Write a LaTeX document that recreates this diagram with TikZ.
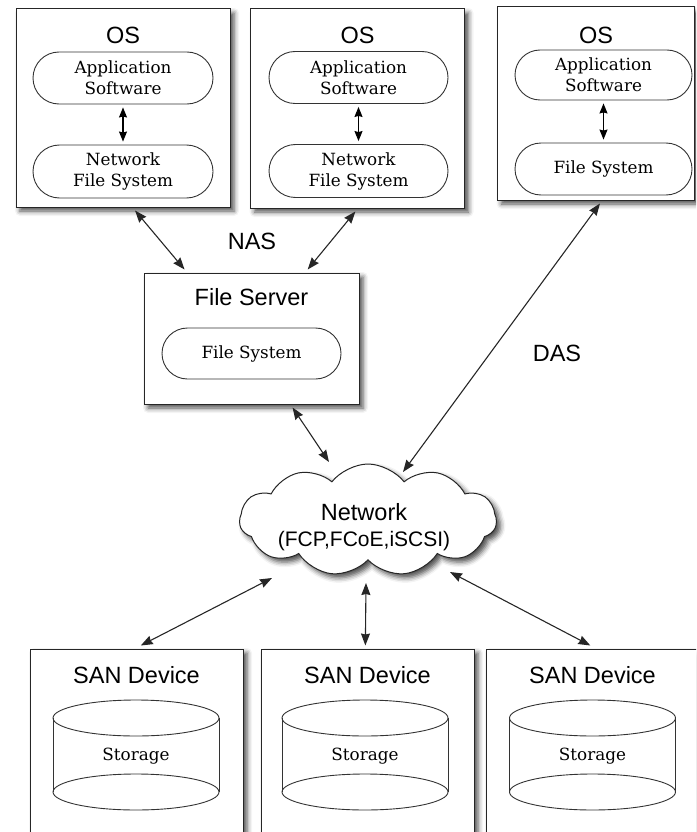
\documentclass[tikz,border=0pt]{standalone}
\usepackage{fontspec}
\setmainfont{Liberation Sans}
\newfontfamily\pillfont{DejaVu Serif}
\usetikzlibrary{shapes.misc,shapes.symbols,arrows.meta,calc,shadows.blur}

\tikzset{
  softshadow/.style={blur shadow={shadow xshift=4pt, shadow yshift=-4pt,
    shadow blur radius=5pt, shadow opacity=70}},
  box/.style={draw=black!85, line width=1pt, fill=white, softshadow},
  pill/.style={rounded rectangle, draw=black!80, line width=0.9pt, fill=white,
    font=\pillfont\fontsize{16.8}{21}\selectfont, align=center, inner sep=0pt},
  title/.style={font=\fontsize{23.5}{27}\selectfont},
  storelabel/.style={font=\pillfont\fontsize{16.8}{21}\selectfont},
  cyl/.style={draw=black!80, line width=0.9pt},
  conn/.style={line width=1.1pt, draw=black!85,
    {Stealth[length=12pt,width=9pt,inset=1pt]}-{Stealth[length=12pt,width=9pt,inset=1pt]}},
  inner/.style={line width=1.1pt, draw=black,
    {Stealth[length=10pt,width=8pt,inset=1pt]}-{Stealth[length=10pt,width=8pt,inset=1pt]}},
}

\begin{document}
\begin{tikzpicture}[x=1pt, y=-1pt]
\useasboundingbox (0,0) rectangle (696,832);
\clip (0,0) rectangle (696,832);

% ---- client hosts ----
\node[box, minimum width=214pt, minimum height=198pt] (os1) at (123,108) {};
\node[title] (os1t) at (123,35) {OS};
\node[pill, minimum width=180pt, minimum height=52pt] (os1a) at (123,78) {Application\\Software};
\node[pill, minimum width=180pt, minimum height=53pt] (os1b) at (123,171.5) {Network\\File System};

\node[box, minimum width=214pt, minimum height=199pt] (os2) at (357.5,108.5) {};
\node[title] (os2t) at (357.5,35) {OS};
\node[pill, minimum width=179pt, minimum height=52pt] (os2a) at (358.5,77.5) {Application\\Software};
\node[pill, minimum width=179pt, minimum height=53pt] (os2b) at (358.5,171) {Network\\File System};

\node[box, minimum width=197pt, minimum height=193pt] (os3) at (596,103.5) {};
\node[title] (os3t) at (596,35) {OS};
\node[pill, minimum width=177pt, minimum height=50pt] (os3a) at (603.5,75) {Application\\Software};
\node[pill, minimum width=177pt, minimum height=52pt] (os3b) at (603.5,169) {File System};

\draw[inner] ($(os1a.south)+(0,3)$) -- ($(os1b.north)+(0,-3)$);
\draw[inner] ($(os2a.south)+(0,3)$) -- ($(os2b.north)+(0,-3)$);
\draw[inner] ($(os3a.south)+(0,3)$) -- ($(os3b.north)+(0,-3)$);

% ---- file server ----
\node[box, minimum width=215pt, minimum height=131pt] (fs) at (251.5,338.5) {};
\node[title] (fst) at (251.5,297) {File Server};
\node[pill, minimum width=179pt, minimum height=51pt] (fsb) at (251.5,353.5) {File System};

% ---- network cloud ----
\node[cloud, cloud puffs=11, cloud puff arc=105, aspect=2.3, draw=black!85, line width=1pt,
      fill=white, minimum width=257pt, minimum height=112pt, inner sep=0pt, softshadow]
      (net) at (368,520) {};
\node[font=\fontsize{23.5}{27}\selectfont] (netl1) at (364,512) {Network};
\node[font=\fontsize{21}{25}\selectfont] (netl2) at (364,541) {(FCP,FCoE,iSCSI)};

% ---- SAN devices ----
\node[box, minimum width=213pt, minimum height=251pt] (san1) at (136.5,774.5) {};
\node[box, minimum width=213pt, minimum height=251pt] (san2) at (367.5,774.5) {};
\node[box, minimum width=213pt, minimum height=251pt] (san3) at (592.5,774.5) {};
\node[title] (san1t) at (136.5,675) {SAN Device};
\node[title] (san2t) at (367.5,675) {SAN Device};
\node[title] (san3t) at (592.5,675) {SAN Device};

\foreach \s/\cx in {st1/136, st2/365, st3/592.5} {
  \node[storelabel] (\s) at (\cx,756) {Storage};
  \draw[cyl] ($(\s)+(0,-38)$) ellipse [x radius=83pt, y radius=18pt];
  \draw[cyl] ($(\s)+(0,36)$) ellipse [x radius=83pt, y radius=18pt];
  \draw[cyl] ($(\s)+(-83,-38)$) -- ($(\s)+(-83,36)$);
  \draw[cyl] ($(\s)+(83,-38)$) -- ($(\s)+(83,36)$);
}

% ---- connectors ----
\coordinate (netFS)  at ($(net.center)+(-39,-58)$);
\coordinate (netDAS) at ($(net.center)+(35,-48)$);
\coordinate (netS1)  at ($(net.center)+(-96,58)$);
\coordinate (netS2)  at ($(net.center)+(-2,63)$);
\coordinate (netS3)  at ($(net.center)+(82,52)$);

\draw[conn] ($(os1.south west)!0.556!(os1.south east)+(0,3)$) -- ($(fs.north west)!0.19!(fs.north east)+(0,-3)$);
\draw[conn] ($(os2.south west)!0.49!(os2.south east)+(0,3)$) -- ($(fs.north west)!0.76!(fs.north east)+(0,-3)$);
\draw[conn] ($(os3.south west)!0.52!(os3.south east)+(0,3)$) -- (netDAS);
\draw[conn] ($(fs.south west)!0.69!(fs.south east)+(0,3)$) -- (netFS);
\draw[conn] (netS1) -- ($(san1.north west)!0.52!(san1.north east)+(0,-3)$);
\draw[conn] (netS2) -- ($(san2.north west)!0.49!(san2.north east)+(0,-3)$);
\draw[conn] (netS3) -- ($(san3.north west)!0.49!(san3.north east)+(0,-3)$);

\node[title] (nas) at (252,241) {NAS};
\node[title] (das) at (557,353) {DAS};
\end{tikzpicture}
\end{document}
